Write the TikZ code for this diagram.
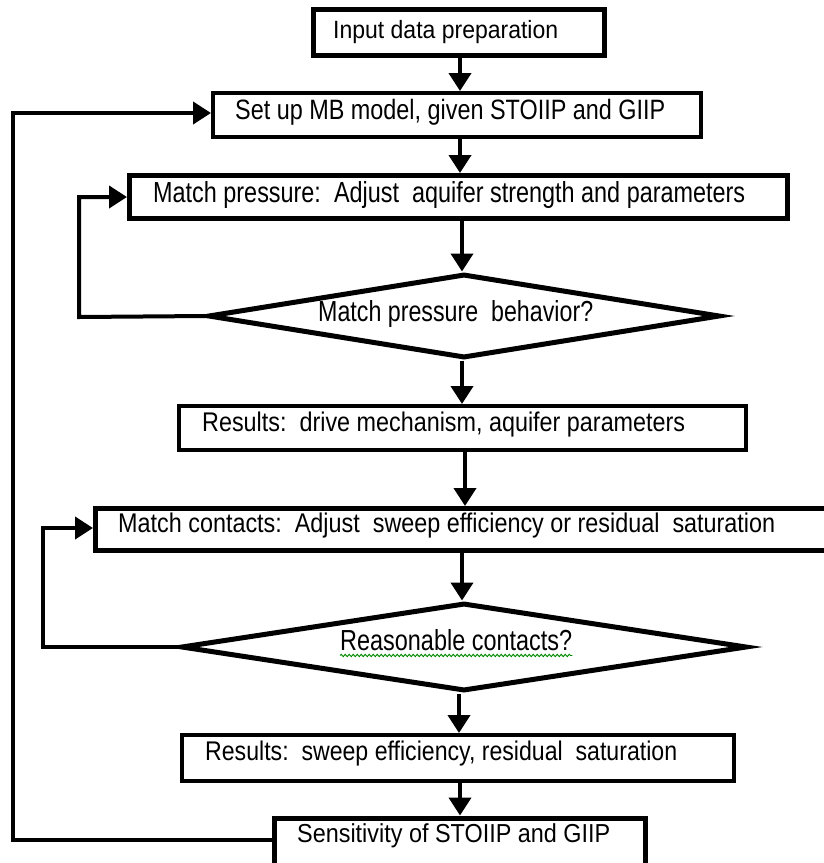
\documentclass[tikz,border=0pt]{standalone}
\usepackage{fontspec}
\setmainfont{Liberation Sans}
\usetikzlibrary{arrows.meta,shapes.geometric,decorations.pathmorphing}
\tikzset{
  box/.style={draw=black, rectangle, line width=4pt, inner sep=0pt, fill=white},
  thickbox/.style={box, line width=5pt},
  decision/.style={draw=black, diamond, line width=5pt, inner sep=0pt, fill=white},
  lbl/.style={anchor=base west, inner sep=0pt, text=black},
  arr/.style={line width=4pt, -{Triangle[width=22pt,length=18pt]}},
  loopline/.style={line width=4pt}
}
\newcommand{\fsz}[1]{\fontsize{#1}{#1}\selectfont}
\begin{document}
\begin{tikzpicture}[x=1pt,y=-1pt]
\useasboundingbox (0,0) rectangle (824,863);
\fill[white] (0,0) rectangle (824,863);
\clip (0,0) rectangle (824,863);

% boxes
\node[thickbox, minimum width=291pt, minimum height=46pt] (b1) at (459,32.5) {};
\node[box, minimum width=488pt, minimum height=44pt] (b2) at (457,115) {};
\node[thickbox, minimum width=658pt, minimum height=43pt] (b3) at (458.5,197) {};
\node[decision, minimum width=512pt, minimum height=84pt] (d1) at (464,316) {};
\node[box, minimum width=567pt, minimum height=44pt] (b5) at (462.5,428) {};
\node[thickbox, minimum width=745pt, minimum height=42pt] (b6) at (468,529.5) {};
\node[decision, minimum width=566pt, minimum height=88pt] (d2) at (464,647) {};
\node[box, minimum width=552pt, minimum height=46pt] (b8) at (458,758) {};
\node[thickbox, minimum width=371pt, minimum height=62pt] (b9) at (460,849) {};

% texts
\node[lbl] (t1) at (333,38) {\resizebox{225pt}{\height}{\fsz{25}Input data preparation}};
\node[lbl] (t2) at (235,119) {\resizebox{430pt}{\height}{\fsz{28}Set up MB model, given STOIIP and GIIP}};
\node[lbl] (t3) at (153,202) {\resizebox{592pt}{\height}{\fsz{29}Match pressure:\ \ Adjust\ \ aquifer strength and parameters}};
\node[lbl] (t4) at (318,321) {\resizebox{275pt}{\height}{\fsz{29}Match pressure\ \ behavior?}};
\node[lbl] (t5) at (202,431) {\resizebox{483pt}{\height}{\fsz{27}Results:\ \ drive mechanism, aquifer parameters}};
\node[lbl] (t6) at (118,532) {\resizebox{657pt}{\height}{\fsz{27}Match contacts:\ \ Adjust\ \ sweep efficiency or residual\ \ saturation}};
\node[lbl] (t7) at (340,650) {\resizebox{232pt}{\height}{\fsz{29}Reasonable contacts?}};
\node[lbl] (t8) at (205,760) {\resizebox{472pt}{\height}{\fsz{27}Results:\ \ sweep efficiency, residual\ \ saturation}};
\node[lbl] (t9) at (297,842) {\resizebox{313pt}{\height}{\fsz{26}Sensitivity of STOIIP and GIIP}};

\draw[green!55!black, line width=0.9pt, decorate, decoration={snake, amplitude=1.2pt, segment length=4pt}]
  ([yshift=-5pt]t7.south west) -- ([yshift=-5pt]t7.south east);

% helper coordinates
\coordinate (x460) at (460,0);
\coordinate (x462) at (462,0);
\coordinate (x465) at (465,0);
\coordinate (x459) at (459,0);

% main arrows
\draw[arr] (b1.south -| x460) -- (b2.north -| x460);
\draw[arr] (b2.south -| x460) -- (b3.north -| x460);
\draw[arr] (b3.south -| x462) -- (d1.north -| x462);
\draw[arr] (d1.south -| x462) -- (b5.north -| x462);
\draw[arr] (b5.south -| x465) -- (b6.north -| x465);
\draw[arr] (b6.south -| x462) -- (d2.north -| x462);
\draw[arr] (d2.south -| x459) -- (b8.north -| x459);
\draw[arr] (b8.south -| x460) -- (b9.north -| x460);

% loops
\coordinate (L1a) at (13,840);
\coordinate (L1b) at (13,113);
\draw[arr, line join=miter] (b9.west |- L1a) -- (L1a) -- (L1b) -- (b2.west |- L1b);

\coordinate (L2a) at (79,317);
\coordinate (L2b) at (79,197);
\draw[arr, line join=miter] (d1.west) -- (L2a) -- (L2b) -- (b3.west |- L2b);

\coordinate (L3a) at (43,647);
\coordinate (L3b) at (43,528);
\draw[arr, line join=miter] (d2.west) -- (L3a) -- (L3b) -- (b6.west |- L3b);
\end{tikzpicture}
\end{document}
